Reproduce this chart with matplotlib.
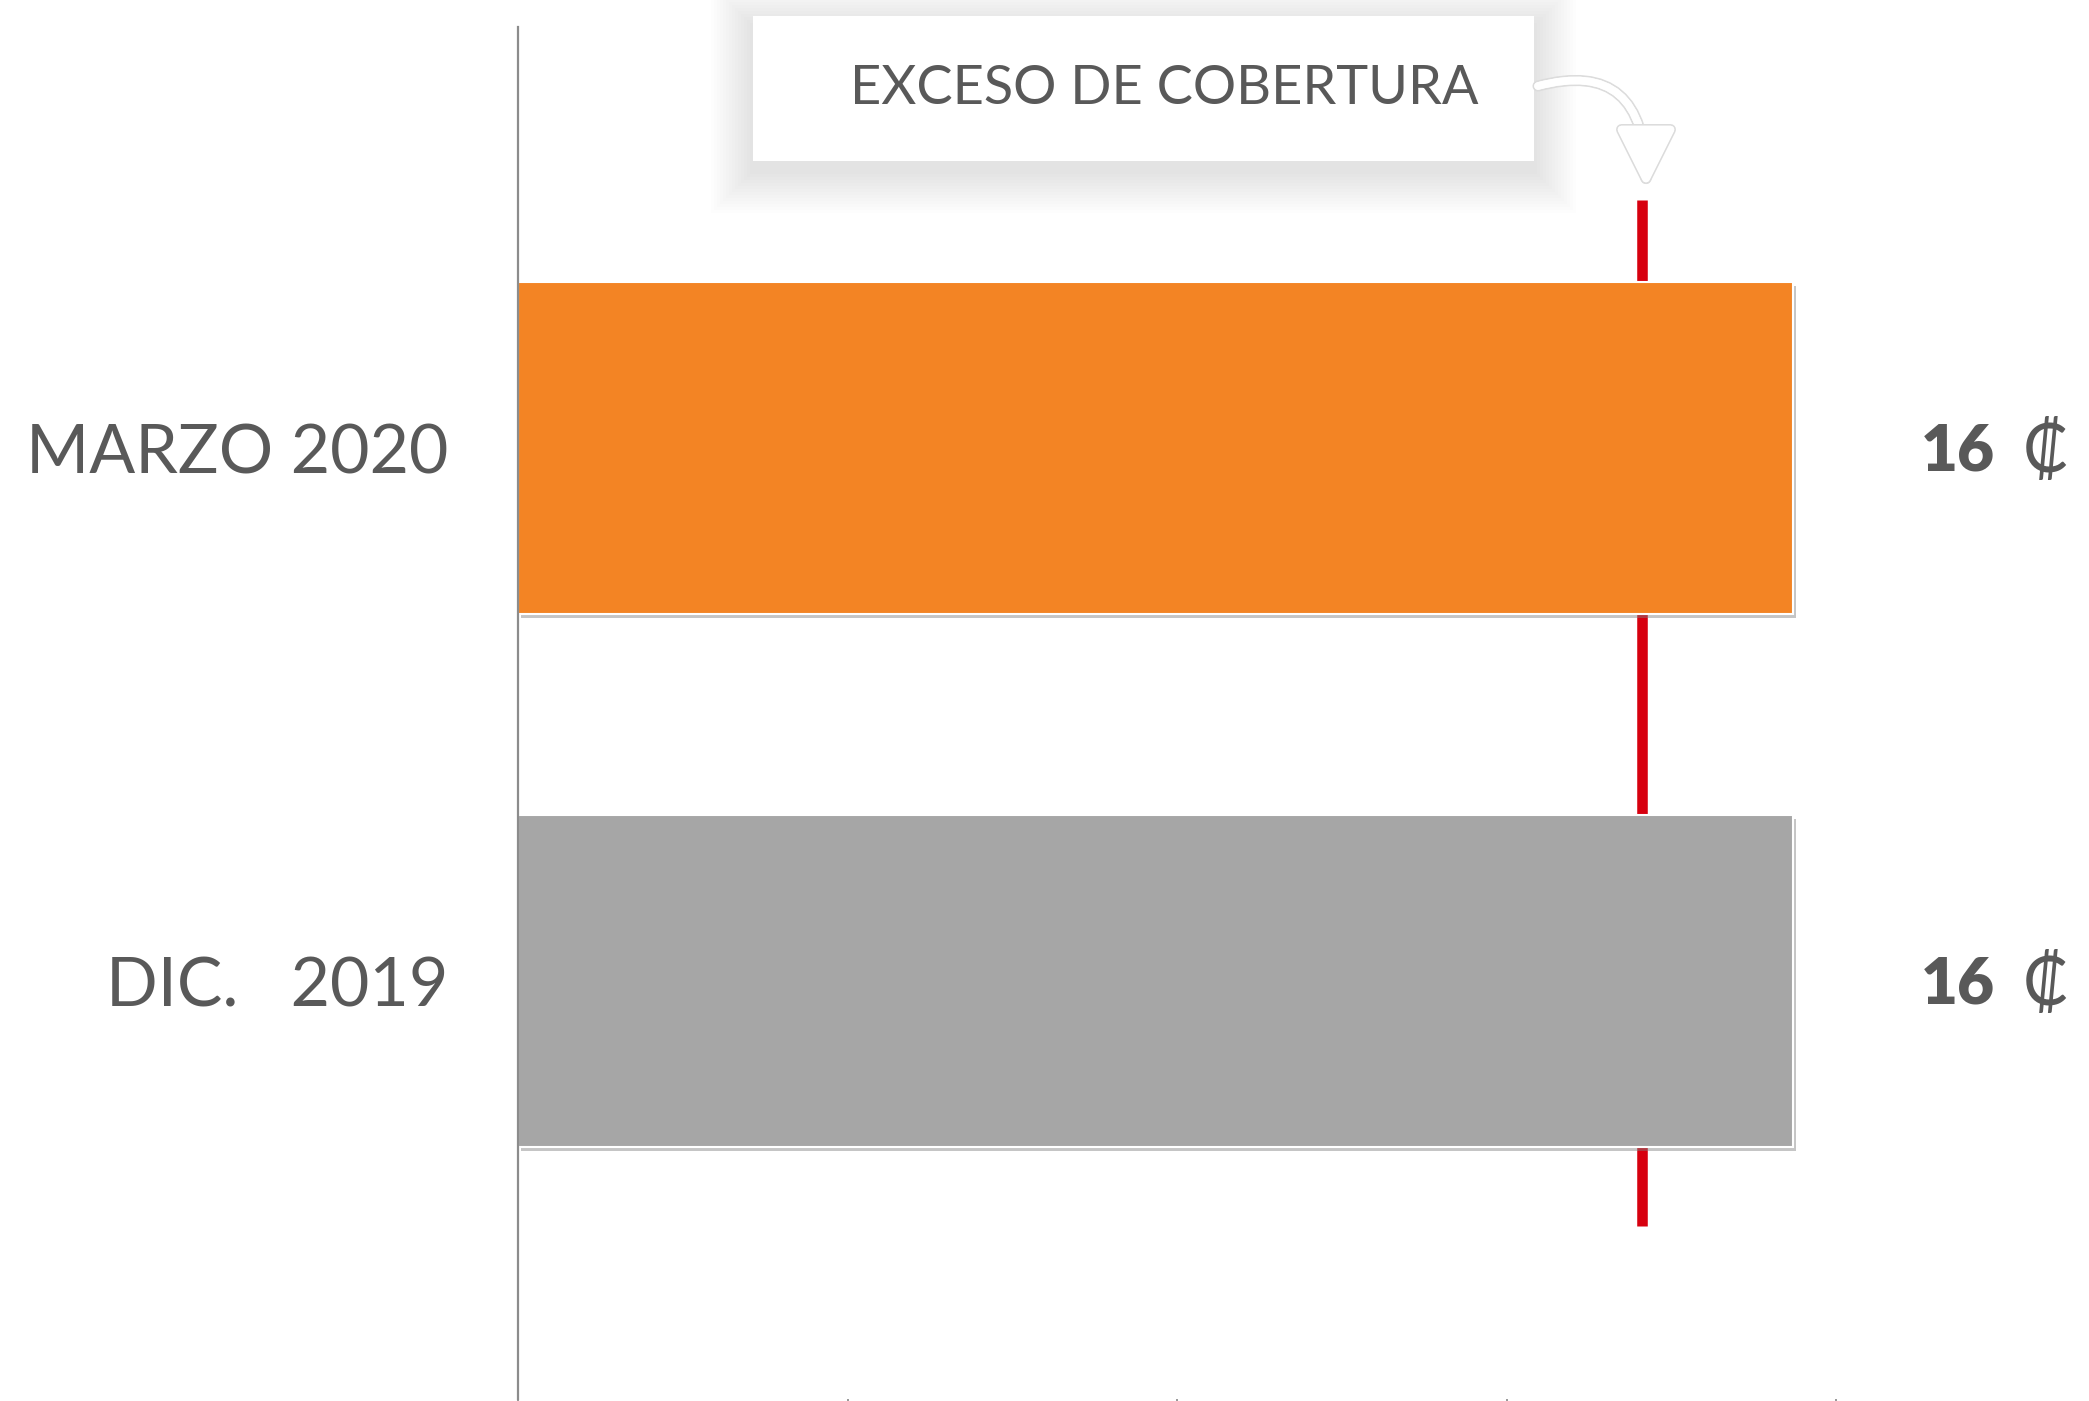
import numpy as np
import matplotlib
matplotlib.use("Agg")
import matplotlib.pyplot as plt
from matplotlib.patches import Rectangle, FancyArrowPatch
import matplotlib.patheffects as pe

plt.rcParams['font.family'] = ['Lato', 'DejaVu Sans']

# data
categories = ['DIC.   2019', 'MARZO 2020']
values = [15.47, 15.47]
value_labels = ['16', '16']
currency = '\u20a1'
bar_colors = ['#A6A6A6', '#F38424']
threshold = 13.64
threshold_span = [-0.46, 1.465]
x_ticks = [0, 4, 8, 12, 16]
note = 'EXCESO DE COBERTURA'

txt = '#595959'
dpi = 100
fig = plt.figure(figsize=(2089/dpi, 1401/dpi), dpi=dpi)
ax = fig.add_axes([518/2089, 2/1401, 1 - 518/2089, 1372/1401])

y = np.arange(len(categories))
ax.vlines(threshold, threshold_span[0], threshold_span[1], color='#D7000F',
          lw=7.6, zorder=1)
bars = ax.barh(y, values, height=0.623, color=bar_colors, edgecolor='white',
               linewidth=1.5, zorder=2)
for b in bars:
    b.set_path_effects([pe.SimplePatchShadow(offset=(2, -3), shadow_rgbFace='#808080', alpha=0.45),
                        pe.Normal()])

for yi, v, lab in zip(y, values, value_labels):
    ax.annotate(lab, xy=(v, yi), xytext=(128, -4), textcoords='offset pixels',
                ha='left', va='center', fontsize=46, fontweight='heavy', color=txt,
                family=['Lato Black', 'Lato', 'DejaVu Sans'])
    ax.annotate(currency, xy=(v, yi), xytext=(230, -4), textcoords='offset pixels',
                ha='left', va='center', fontsize=48, fontweight='normal', color=txt,
                annotation_clip=False)

ax.set_xlim(0, (2089 - 518) / 82.4)
ax.set_ylim(-0.784, 1.79)
ax.set_yticks(y, categories, fontsize=49, color=txt)
ax.tick_params(axis='y', length=0, pad=50)
ax.set_xticks(x_ticks, [''] * len(x_ticks))
ax.tick_params(axis='x', direction='out', length=5, width=1.4, color='#999999')
for s in ['top', 'right', 'bottom']:
    ax.spines[s].set_visible(False)
ax.spines['left'].set_color('#8c8c8c')
ax.spines['left'].set_linewidth(1.6)
ax.set_facecolor('none')

# callout box with soft shadow
bx, by, bw, bh = 753/2089, 1 - 161/1401, 781/2089, 145/1401
for i in range(14, 0, -1):
    dx, dy = i * 3 / 2089, i * 3 / 1401
    fig.patches.append(Rectangle((bx - dx, by - dy - 10/1401), bw + 2*dx, bh + 2*dy,
                                 transform=fig.transFigure, facecolor='black',
                                 edgecolor='none', alpha=0.007, zorder=3))
fig.patches.append(Rectangle((bx, by), bw, bh, transform=fig.transFigure,
                             facecolor='white', edgecolor='none', zorder=4))
fig.text(1164/2089, 1 - 88/1401, note, ha='center', va='center', fontsize=39,
         fontweight='normal', color=txt, zorder=5)

arr = FancyArrowPatch((1538/2089, 1 - 86/1401), (1646/2089, 1 - 187/1401),
                      transform=fig.transFigure,
                      connectionstyle='angle3,angleA=15,angleB=90',
                      arrowstyle='-|>,head_length=0.8,head_width=0.4',
                      mutation_scale=44, facecolor='white', color='white', lw=5.5,
                      shrinkA=0, shrinkB=0, zorder=6)
arr.set_path_effects([pe.withStroke(linewidth=8, foreground='#dcdcdc'), pe.Normal()])
fig.patches.append(arr)

fig.savefig('out.png', dpi=dpi, facecolor='white')
